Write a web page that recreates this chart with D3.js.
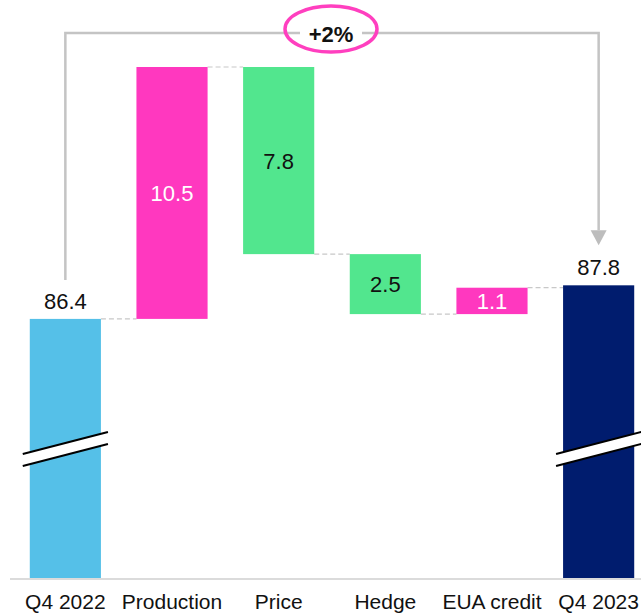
<!DOCTYPE html>
<html>
<head>
<meta charset="utf-8">
<script src="https://cdn.jsdelivr.net/npm/d3@7"></script>
<style>
  html, body { margin: 0; padding: 0; background: #fff; }
  svg { display: block; font-family: "Liberation Sans", Arial, sans-serif; }
</style>
</head>
<body>
<svg id="chart" width="641" height="614"></svg>
<script>
// Waterfall: Q4 2022 → Q4 2023 bridge
const categories = ["Q4 2022", "Production", "Price", "Hedge", "EUA credit", "Q4 2023"];
const kinds      = ["total", "up", "down", "down", "up", "total"];
const values     = [86.4, 10.5, -7.8, -2.5, 1.1, 87.8];
const labels     = ["86.4", "10.5", "7.8", "2.5", "1.1", "87.8"];
const changeLabel = "+2%";

const colors = {
  start: "#55C0E8",
  up: "#FF38BF",
  down: "#52E68E",
  end: "#001C6E"
};

const svg = d3.select("#chart");
const W = 641, H = 614;

const x = d3.scaleBand()
  .domain(categories)
  .range([12, 652])
  .paddingInner(0.333)
  .paddingOuter(0.1667);

// Axis is broken: the lower part of the total bars is cut away
const y = d3.scaleLinear().domain([75.6, 96.9]).range([578, 67]);

// Build bar segments
let running = 0;
const bars = categories.map((c, i) => {
  let y0, y1, fill;
  if (kinds[i] === "total") {
    y0 = y.domain()[0];
    y1 = values[i];
    running = values[i];
    fill = i === 0 ? colors.start : colors.end;
  } else {
    y0 = running;
    y1 = running + values[i];
    running = y1;
    fill = values[i] >= 0 ? colors.up : colors.down;
  }
  return { cat: c, kind: kinds[i], y0, y1, fill, label: labels[i], end: y1 };
});

// Dashed connectors between consecutive bars
const conn = svg.append("g");
bars.slice(0, -1).forEach((b, i) => {
  const lvl = b.end;
  conn.append("line")
    .attr("x1", x(b.cat) + x.bandwidth())
    .attr("x2", x(bars[i + 1].cat))
    .attr("y1", y(lvl)).attr("y2", y(lvl))
    .attr("stroke", "#c8c8c8")
    .attr("stroke-width", 1.2)
    .attr("stroke-dasharray", "5,3");
});

// Bars
svg.append("g").selectAll("rect")
  .data(bars)
  .join("rect")
  .attr("x", d => x(d.cat))
  .attr("width", x.bandwidth())
  .attr("y", d => y(Math.max(d.y0, d.y1)))
  .attr("height", d => Math.abs(y(d.y0) - y(d.y1)))
  .attr("fill", d => d.fill);

// Axis break marks on the total bars
const breakY = 449;
bars.filter(d => d.kind === "total").forEach(d => {
  const bx0 = x(d.cat) - 7, bx1 = x(d.cat) + x.bandwidth() + 7;
  const g = svg.append("g");
  g.append("polygon")
    .attr("points", `${bx0},${breakY + 5} ${bx1},${breakY - 17} ${bx1},${breakY - 5} ${bx0},${breakY + 17}`)
    .attr("fill", "#fff");
  [0, 12].forEach(off => {
    g.append("line")
      .attr("x1", bx0).attr("y1", breakY + 5 + off)
      .attr("x2", bx1).attr("y2", breakY - 17 + off)
      .attr("stroke", "#000").attr("stroke-width", 2);
  });
});

// Baseline
svg.append("line")
  .attr("x1", 10).attr("x2", W)
  .attr("y1", 579).attr("y2", 579)
  .attr("stroke", "#cfcfcf").attr("stroke-width", 1.5);

// Category labels
svg.append("g").selectAll("text")
  .data(categories)
  .join("text")
  .attr("x", d => x(d) + x.bandwidth() / 2)
  .attr("y", 609)
  .attr("text-anchor", "middle")
  .attr("font-size", 21)
  .attr("fill", "#111")
  .text(d => d);

// Value labels
svg.append("g").selectAll("text")
  .data(bars)
  .join("text")
  .attr("x", d => x(d.cat) + x.bandwidth() / 2)
  .attr("y", d => d.kind === "total"
      ? y(d.y1) - 10
      : (y(d.y0) + y(d.y1)) / 2 + 8)
  .attr("text-anchor", "middle")
  .attr("font-size", 22)
  .attr("fill", d => d.kind === "total" ? "#111" : (d.fill === colors.up ? "#fff" : "#111"))
  .text(d => d.label);

// Change bracket with arrow and highlighted percentage
const first = bars[0], last = bars[bars.length - 1];
const lx = x(first.cat) + x.bandwidth() / 2;
const rx = x(last.cat) + x.bandwidth() / 2;
const topY = 33;
const cx = 331;
const br = svg.append("g")
  .attr("fill", "none")
  .attr("stroke", "#c4c4c4")
  .attr("stroke-width", 2.5);
br.append("path")
  .attr("d", `M${lx},${y(first.y1) - 39} V${topY} H${cx - 31}`);
br.append("path")
  .attr("d", `M${cx + 31},${topY} H${rx} V${y(last.y1) - 55}`);
svg.append("path")
  .attr("d", `M${rx - 8},${y(last.y1) - 55} L${rx + 8},${y(last.y1) - 55} L${rx},${y(last.y1) - 40} Z`)
  .attr("fill", "#bdbdbd");

svg.append("ellipse")
  .attr("cx", cx).attr("cy", 29)
  .attr("rx", 46).attr("ry", 23)
  .attr("fill", "none")
  .attr("stroke", "#FF3FBF")
  .attr("stroke-width", 3.5);
svg.append("text")
  .attr("x", cx).attr("y", 42)
  .attr("text-anchor", "middle")
  .attr("font-size", 22)
  .attr("font-weight", "bold")
  .attr("fill", "#111")
  .text(changeLabel);
</script>
</body>
</html>
